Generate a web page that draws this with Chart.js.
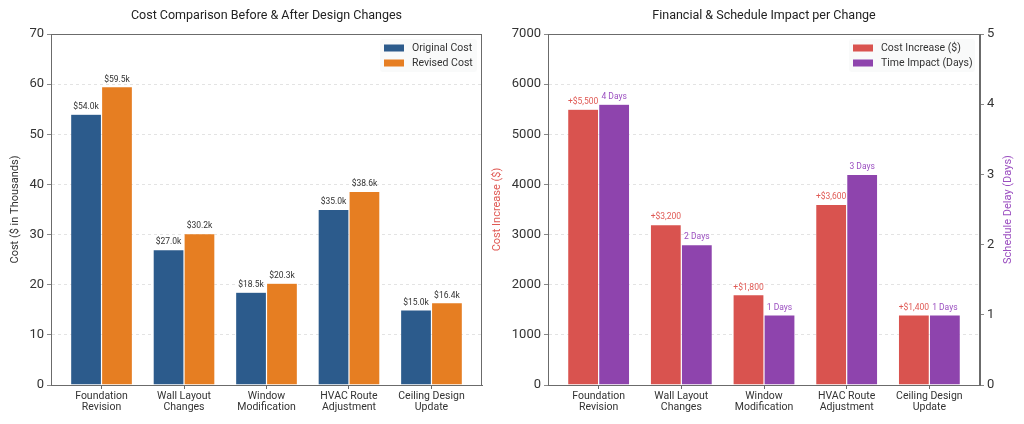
<!DOCTYPE html>
<html>
<head>
<meta charset="utf-8">
<script src="https://cdn.jsdelivr.net/npm/chart.js@4"></script>
<style>
  html, body { margin: 0; padding: 0; background: #fff; }
  #wrap { position: relative; width: 1024px; height: 424px; }
  #leftBox { position: absolute; left: 0; top: 0; width: 485px; height: 424px; }
  #rightBox { position: absolute; left: 485px; top: 0; width: 539px; height: 424px; }
</style>
</head>
<body>
<div id="wrap">
  <div id="leftBox"><canvas id="costChart"></canvas></div>
  <div id="rightBox"><canvas id="impactChart"></canvas></div>
</div>
<script>
// data
const categories = [
  ["Foundation", "Revision"],
  ["Wall Layout", "Changes"],
  ["Window", "Modification"],
  ["HVAC Route", "Adjustment"],
  ["Ceiling Design", "Update"]
];
const originalCost = [54.0, 27.0, 18.5, 35.0, 15.0]; // thousands
const revisedCost = [59.5, 30.2, 20.3, 38.6, 16.4];
const costIncrease = [5500, 3200, 1800, 3600, 1400];
const timeImpact = [4, 2, 1, 3, 1];
const costTicks = [0, 10, 20, 30, 40, 50, 60, 70];
const increaseTicks = [0, 1000, 2000, 3000, 4000, 5000, 6000, 7000];
const dayTicks = [0, 1, 2, 3, 4, 5];

const FONT = "Roboto, 'Noto Sans', sans-serif";
const TEXT = "#333";
const SPINE = "#6b6b6b";
const GRIDC = "#dcdcdc";
const RED_TXT = "#e05a55";
const PURPLE_TXT = "#9b4fc0";

Chart.defaults.font.family = FONT;
Chart.defaults.color = TEXT;
Chart.defaults.animation = false;
Chart.defaults.responsive = true;
Chart.defaults.maintainAspectRatio = false;

const toPoints = (arr) => arr.map((v, i) => ({ x: i, y: v }));

// title, box spines, axis titles, legend inside plot, bar value labels
const decorPlugin = {
  id: "decor",
  afterDatasetsDraw(chart, args, opts) {
    const ctx = chart.ctx;
    const area = chart.chartArea;
    const midY = (area.top + area.bottom) / 2;
    ctx.save();

    // top/right spine
    ctx.strokeStyle = SPINE;
    ctx.lineWidth = 1;
    ctx.beginPath();
    ctx.moveTo(area.left, area.top + 0.5);
    ctx.lineTo(area.right, area.top + 0.5);
    ctx.moveTo(area.right - 0.5, area.top);
    ctx.lineTo(area.right - 0.5, area.bottom);
    ctx.stroke();

    // bar labels
    chart.data.datasets.forEach((ds, di) => {
      const meta = chart.getDatasetMeta(di);
      ctx.font = "8.5px " + FONT;
      ctx.fillStyle = ds.labelColor;
      ctx.textAlign = "center";
      ctx.textBaseline = "bottom";
      meta.data.forEach((bar, i) => {
        ctx.fillText(ds.fmt(ds.data[i].y), bar.x, bar.y - 3);
      });
    });

    // title
    ctx.font = "12.5px " + FONT;
    ctx.fillStyle = "#222";
    ctx.textAlign = "center";
    ctx.textBaseline = "middle";
    ctx.fillText(opts.title, (area.left + area.right) / 2, 16);

    // axis titles, all reading bottom to top
    ctx.font = "11px " + FONT;
    opts.axisTitles.forEach((t) => {
      ctx.save();
      ctx.translate(t.x, midY);
      ctx.rotate(-Math.PI / 2);
      ctx.fillStyle = t.color;
      ctx.fillText(t.text, 0, 0);
      ctx.restore();
    });

    // legend box
    const w = opts.legendWidth, h = 33;
    const x0 = area.right - w - 5, y0 = area.top + 5;
    ctx.fillStyle = "rgba(248,249,250,0.9)";
    ctx.beginPath();
    ctx.roundRect(x0, y0, w, h, 3);
    ctx.fill();
    ctx.font = "10.5px " + FONT;
    ctx.textAlign = "left";
    ctx.textBaseline = "middle";
    chart.data.datasets.forEach((ds, di) => {
      const cy = y0 + 9 + di * 15;
      ctx.fillStyle = ds.backgroundColor;
      ctx.fillRect(x0 + 4, cy - 3.5, 20, 7);
      ctx.fillStyle = TEXT;
      ctx.fillText(ds.label, x0 + 32, cy);
    });
    ctx.restore();
  }
};

const xAxis = {
  type: "linear",
  min: -0.6125,
  max: 4.6125,
  offset: false,
  afterBuildTicks: (s) => { s.ticks = categories.map((c, i) => ({ value: i })); },
  afterFit: (s) => { s.height = 39; },
  ticks: {
    autoSkip: false,
    maxRotation: 0,
    padding: 2,
    font: { size: 10.5, lineHeight: 1.05 },
    color: TEXT,
    callback: (v) => categories[v]
  },
  grid: { offset: false, drawOnChartArea: false, drawTicks: true, tickLength: 4, tickColor: SPINE },
  border: { color: SPINE, width: 1 }
};

function yAxis(ticksArr, max, pos, width) {
  return {
    type: "linear",
    position: pos,
    min: 0,
    max: max,
    afterBuildTicks: (s) => { s.ticks = ticksArr.map((v) => ({ value: v })); },
    afterFit: (s) => { s.width = width; },
    ticks: { font: { size: 13 }, color: TEXT, padding: 3, callback: (v) => String(v) },
    grid: {
      drawOnChartArea: pos === "left",
      color: GRIDC,
      lineWidth: 0.8,
      drawTicks: true,
      tickLength: 4,
      tickColor: SPINE,
      tickBorderDash: []
    },
    border: { color: SPINE, width: 1, dash: [3, 3] }
  };
}

new Chart(document.getElementById("costChart"), {
  type: "bar",
  data: {
    datasets: [
      {
        label: "Original Cost",
        data: toPoints(originalCost),
        backgroundColor: "#2c5b8c",
        borderColor: "rgba(255,255,255,0.5)",
        borderWidth: 0.6,
        labelColor: "#333",
        fmt: (v) => "$" + v.toFixed(1) + "k"
      },
      {
        label: "Revised Cost",
        data: toPoints(revisedCost),
        backgroundColor: "#e67e22",
        borderColor: "rgba(255,255,255,0.5)",
        borderWidth: 0.6,
        labelColor: "#333",
        fmt: (v) => "$" + v.toFixed(1) + "k"
      }
    ]
  },
  options: {
    layout: { padding: { top: 34, right: 3, left: 0, bottom: 0 } },
    datasets: { bar: { categoryPercentage: 0.75, barPercentage: 1.0, grouped: true } },
    scales: {
      x: xAxis,
      y: yAxis(costTicks, 70, "left", 51)
    },
    plugins: {
      legend: { display: false },
      tooltip: { enabled: false },
      decor: {
        title: "Cost Comparison Before & After Design Changes",
        legendWidth: 97,
        axisTitles: [{ text: "Cost ($ in Thousands)", color: TEXT, x: 15 }]
      }
    }
  },
  plugins: [decorPlugin]
});

new Chart(document.getElementById("impactChart"), {
  type: "bar",
  data: {
    datasets: [
      {
        label: "Cost Increase ($)",
        data: toPoints(costIncrease),
        yAxisID: "y",
        backgroundColor: "#d9534f",
        borderColor: "rgba(255,255,255,0.5)",
        borderWidth: 0.6,
        labelColor: RED_TXT,
        fmt: (v) => "+$" + v.toLocaleString("en-US")
      },
      {
        label: "Time Impact (Days)",
        data: toPoints(timeImpact),
        yAxisID: "y2",
        backgroundColor: "#8e44ad",
        borderColor: "rgba(255,255,255,0.5)",
        borderWidth: 0.6,
        labelColor: PURPLE_TXT,
        fmt: (v) => v + " Days"
      }
    ]
  },
  options: {
    layout: { padding: { top: 34, right: 0, left: 0, bottom: 0 } },
    datasets: { bar: { categoryPercentage: 0.75, barPercentage: 1.0, grouped: true } },
    scales: {
      x: xAxis,
      y: yAxis(increaseTicks, 7000, "left", 63),
      y2: yAxis(dayTicks, 5, "right", 44)
    },
    plugins: {
      legend: { display: false },
      tooltip: { enabled: false },
      decor: {
        title: "Financial & Schedule Impact per Change",
        legendWidth: 126,
        axisTitles: [
          { text: "Cost Increase ($)", color: RED_TXT, x: 12 },
          { text: "Schedule Delay (Days)", color: PURPLE_TXT, x: 523 }
        ]
      }
    }
  },
  plugins: [decorPlugin]
});
</script>
</body>
</html>
